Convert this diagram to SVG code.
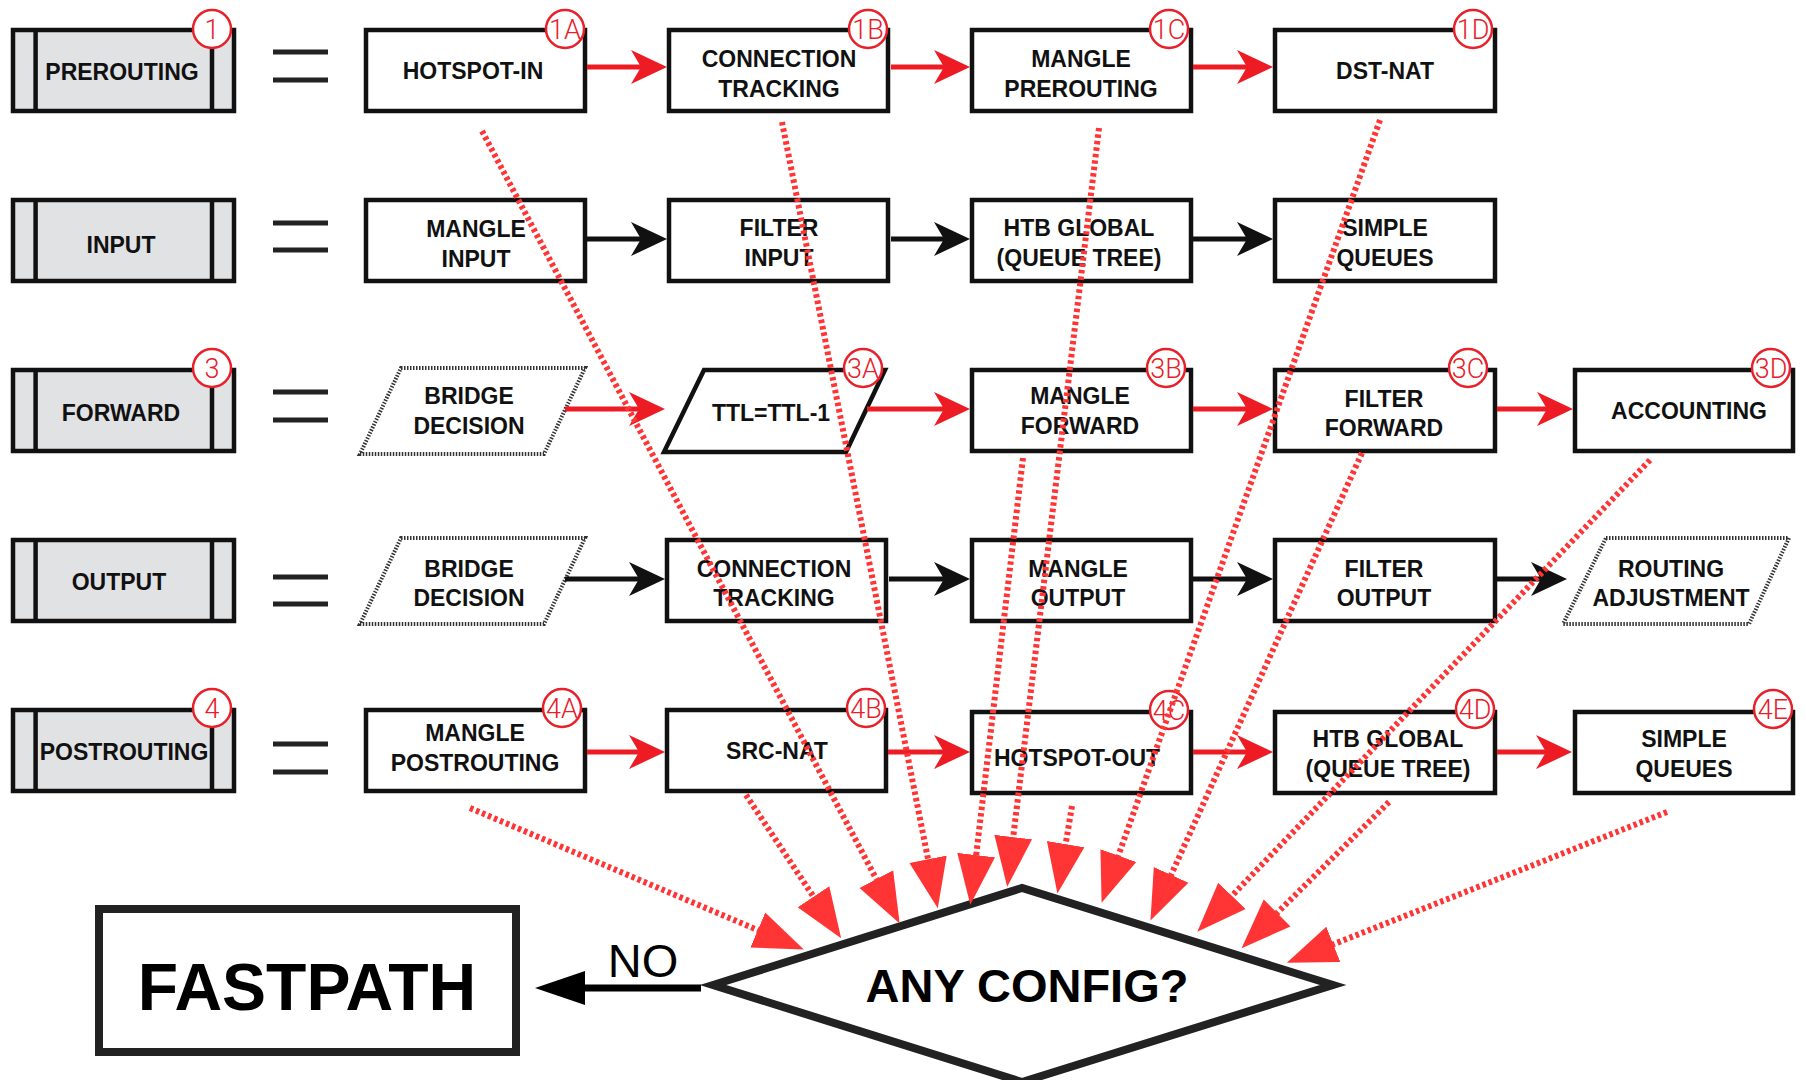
<svg xmlns="http://www.w3.org/2000/svg" width="1806" height="1080" viewBox="0 0 1806 1080">
<style>
.box{fill:#fff;stroke:#111;stroke-width:4.5}
.stage{fill:#e1e2e4;stroke:#111;stroke-width:4.5}
.sl{stroke:#111;stroke-width:4.5}
.dotted{fill:#fff;stroke:#333;stroke-width:4;stroke-dasharray:1.5 1.5}
.lbl{font-family:"Liberation Sans",Arial,sans-serif;font-weight:bold;font-size:23px;text-anchor:middle;fill:#111}
.bc{fill:#fff;stroke:#e8202a;stroke-width:2.5}
.bt{font-family:Roboto,"Liberation Sans",sans-serif;font-weight:300;font-size:27px;fill:#e8202a;text-anchor:middle}
.eq{stroke:#222;stroke-width:5}
.red{stroke:#ed1c24;stroke-width:5;fill:none;marker-end:url(#ahRed)}
.blk{stroke:#111;stroke-width:5;fill:none;marker-end:url(#ahBlk)}
.dot{stroke:#ff3434;stroke-width:6;stroke-dasharray:3.5 3;fill:none;marker-end:url(#ahDot)}
</style>
<defs>
<marker id="ahRed" markerUnits="userSpaceOnUse" viewBox="0 -20 40 40" markerWidth="40" markerHeight="40" refX="28" refY="0" orient="auto"><path d="M0,-17 L36,0 L0,17 L10,0 z" fill="#ed1c24"/></marker>
<marker id="ahBlk" markerUnits="userSpaceOnUse" viewBox="0 -20 40 40" markerWidth="40" markerHeight="40" refX="28" refY="0" orient="auto"><path d="M0,-17 L36,0 L0,17 L10,0 z" fill="#111"/></marker>
<marker id="ahDot" markerUnits="userSpaceOnUse" viewBox="0 -22 52 44" markerWidth="52" markerHeight="44" refX="10" refY="0" orient="auto"><path d="M0,-19 L50,0 L0,19 z" fill="#ff3434"/></marker>
<marker id="ahNo" markerUnits="userSpaceOnUse" viewBox="0 -18 52 36" markerWidth="52" markerHeight="36" refX="0" refY="0" orient="auto"><path d="M0,-17 L50,0 L0,17 z" fill="#000"/></marker>
</defs>
<rect width="1806" height="1080" fill="#fff"/>

<!-- Stage boxes -->
<g id="prerouting"><rect class="stage" x="13" y="30" width="221" height="81"/><line class="sl" x1="35.6" y1="30" x2="35.6" y2="111"/><line class="sl" x1="212" y1="30" x2="212" y2="111"/><text class="lbl" x="122" y="80">PREROUTING</text><circle class="bc" cx="212" cy="29" r="19"/><text class="bt" x="212" y="38.5">1</text></g>
<g id="input"><rect class="stage" x="13" y="200" width="221" height="81"/><line class="sl" x1="35.6" y1="200" x2="35.6" y2="281"/><line class="sl" x1="212" y1="200" x2="212" y2="281"/><text class="lbl" x="121" y="253">INPUT</text></g>
<g id="forward"><rect class="stage" x="13" y="370" width="221" height="81"/><line class="sl" x1="35.6" y1="370" x2="35.6" y2="451"/><line class="sl" x1="212" y1="370" x2="212" y2="451"/><text class="lbl" x="121" y="421">FORWARD</text><circle class="bc" cx="212" cy="368" r="19"/><text class="bt" x="212" y="377.5">3</text></g>
<g id="output"><rect class="stage" x="13" y="540" width="221" height="81"/><line class="sl" x1="35.6" y1="540" x2="35.6" y2="621"/><line class="sl" x1="212" y1="540" x2="212" y2="621"/><text class="lbl" x="119" y="590">OUTPUT</text></g>
<g id="postrouting"><rect class="stage" x="13" y="710" width="221" height="81"/><line class="sl" x1="35.6" y1="710" x2="35.6" y2="791"/><line class="sl" x1="212" y1="710" x2="212" y2="791"/><text class="lbl" x="124" y="760">POSTROUTING</text><circle class="bc" cx="212" cy="708" r="19"/><text class="bt" x="212" y="717.5">4</text></g>

<!-- Equals signs -->
<g id="equals">
<line class="eq" x1="273" y1="52" x2="328" y2="52"/><line class="eq" x1="273" y1="80" x2="328" y2="80"/>
<line class="eq" x1="273" y1="223" x2="328" y2="223"/><line class="eq" x1="273" y1="250" x2="328" y2="250"/>
<line class="eq" x1="273" y1="392" x2="328" y2="392"/><line class="eq" x1="273" y1="420" x2="328" y2="420"/>
<line class="eq" x1="273" y1="577" x2="328" y2="577"/><line class="eq" x1="273" y1="604" x2="328" y2="604"/>
<line class="eq" x1="273" y1="744" x2="328" y2="744"/><line class="eq" x1="273" y1="772" x2="328" y2="772"/>
</g>

<!-- Row 1 -->
<g id="hotspot-in"><rect class="box" x="366" y="30" width="219" height="81"/><text class="lbl" x="473" y="79">HOTSPOT-IN</text><circle class="bc" cx="565" cy="29" r="19"/><text class="bt" x="565" y="38.5">1A</text></g>
<g id="conntrack-pre"><rect class="box" x="669" y="30" width="219" height="81"/><text class="lbl" x="779" y="67">CONNECTION</text><text class="lbl" x="779" y="97">TRACKING</text><circle class="bc" cx="868" cy="29" r="19"/><text class="bt" x="868" y="38.5">1B</text></g>
<g id="mangle-prerouting"><rect class="box" x="972" y="30" width="219" height="81"/><text class="lbl" x="1081" y="67">MANGLE</text><text class="lbl" x="1081" y="97">PREROUTING</text><circle class="bc" cx="1169" cy="29" r="19"/><text class="bt" x="1169" y="38.5">1C</text></g>
<g id="dst-nat"><rect class="box" x="1275" y="30" width="220" height="81"/><text class="lbl" x="1385" y="79">DST-NAT</text><circle class="bc" cx="1473" cy="29" r="19"/><text class="bt" x="1473" y="38.5">1D</text></g>

<!-- Row 2 -->
<g id="mangle-input"><rect class="box" x="366" y="200" width="219" height="81"/><text class="lbl" x="476" y="237">MANGLE</text><text class="lbl" x="476" y="267">INPUT</text></g>
<g id="filter-input"><rect class="box" x="669" y="200" width="219" height="81"/><text class="lbl" x="779" y="236">FILTER</text><text class="lbl" x="779" y="266">INPUT</text></g>
<g id="htb-input"><rect class="box" x="972" y="200" width="219" height="81"/><text class="lbl" x="1079" y="236">HTB GLOBAL</text><text class="lbl" x="1079" y="266">(QUEUE TREE)</text></g>
<g id="simple-input"><rect class="box" x="1275" y="200" width="220" height="81"/><text class="lbl" x="1385" y="236">SIMPLE</text><text class="lbl" x="1385" y="266">QUEUES</text></g>

<!-- Row 3 -->
<g id="bridge-fwd"><polygon class="dotted" points="401,368 585,368 544,454 360,454"/><text class="lbl" x="469" y="404">BRIDGE</text><text class="lbl" x="469" y="434">DECISION</text></g>
<g id="ttl"><polygon class="box" points="704,370 885,370 846,452 664,452"/><text class="lbl" x="771" y="421">TTL=TTL-1</text><circle class="bc" cx="863" cy="368" r="19"/><text class="bt" x="863" y="377.5">3A</text></g>
<g id="mangle-forward"><rect class="box" x="972" y="370" width="219" height="81"/><text class="lbl" x="1080" y="404">MANGLE</text><text class="lbl" x="1080" y="434">FORWARD</text><circle class="bc" cx="1166" cy="368" r="19"/><text class="bt" x="1166" y="377.5">3B</text></g>
<g id="filter-forward"><rect class="box" x="1275" y="370" width="220" height="81"/><text class="lbl" x="1384" y="407">FILTER</text><text class="lbl" x="1384" y="436">FORWARD</text><circle class="bc" cx="1468" cy="368" r="19"/><text class="bt" x="1468" y="377.5">3C</text></g>
<g id="accounting"><rect class="box" x="1575" y="370" width="218" height="81"/><text class="lbl" x="1689" y="419">ACCOUNTING</text><circle class="bc" cx="1771" cy="368" r="19"/><text class="bt" x="1771" y="377.5">3D</text></g>

<!-- Row 4 -->
<g id="bridge-out"><polygon class="dotted" points="401,538 585,538 544,624 360,624"/><text class="lbl" x="469" y="577">BRIDGE</text><text class="lbl" x="469" y="606">DECISION</text></g>
<g id="conntrack-out"><rect class="box" x="667" y="540" width="219" height="81"/><text class="lbl" x="774" y="577">CONNECTION</text><text class="lbl" x="774" y="606">TRACKING</text></g>
<g id="mangle-output"><rect class="box" x="972" y="540" width="219" height="81"/><text class="lbl" x="1078" y="577">MANGLE</text><text class="lbl" x="1078" y="606">OUTPUT</text></g>
<g id="filter-output"><rect class="box" x="1275" y="540" width="220" height="81"/><text class="lbl" x="1384" y="577">FILTER</text><text class="lbl" x="1384" y="606">OUTPUT</text></g>
<g id="routing-adj"><polygon class="dotted" points="1606,538 1789,538 1749,624 1563,624"/><text class="lbl" x="1671" y="577">ROUTING</text><text class="lbl" x="1671" y="606">ADJUSTMENT</text></g>

<!-- Row 5 -->
<g id="mangle-postrouting"><rect class="box" x="366" y="710" width="219" height="81"/><text class="lbl" x="475" y="741">MANGLE</text><text class="lbl" x="475" y="771">POSTROUTING</text><circle class="bc" cx="562" cy="708" r="19"/><text class="bt" x="562" y="717.5">4A</text></g>
<g id="src-nat"><rect class="box" x="667" y="710" width="219" height="81"/><text class="lbl" x="777" y="759">SRC-NAT</text><circle class="bc" cx="866" cy="708" r="19"/><text class="bt" x="866" y="717.5">4B</text></g>
<g id="hotspot-out"><rect class="box" x="972" y="712" width="219" height="81"/><text class="lbl" x="1077" y="766">HOTSPOT-OUT</text><circle class="bc" cx="1169" cy="710" r="19"/><text class="bt" x="1169" y="719.5">4C</text></g>
<g id="htb-post"><rect class="box" x="1275" y="712" width="220" height="81"/><text class="lbl" x="1388" y="747">HTB GLOBAL</text><text class="lbl" x="1388" y="777">(QUEUE TREE)</text><circle class="bc" cx="1475" cy="709" r="19"/><text class="bt" x="1475" y="718.5">4D</text></g>
<g id="simple-post"><rect class="box" x="1575" y="712" width="218" height="81"/><text class="lbl" x="1684" y="747">SIMPLE</text><text class="lbl" x="1684" y="777">QUEUES</text><circle class="bc" cx="1773" cy="709" r="19"/><text class="bt" x="1773" y="718.5">4E</text></g>

<!-- Decision and fastpath -->
<g id="any-config"><polygon points="713,985 1022,888 1333,985 1022,1082" fill="#fff" stroke="#222" stroke-width="8"/><text x="1027" y="1002" font-family="Liberation Sans, Arial, sans-serif" font-weight="bold" font-size="47" text-anchor="middle" fill="#000">ANY CONFIG?</text></g>
<g id="fastpath"><rect x="99" y="909" width="417" height="143" fill="#fff" stroke="#222" stroke-width="8"/><text x="307" y="1010" font-family="Liberation Sans, Arial, sans-serif" font-weight="bold" font-size="66" text-anchor="middle" fill="#000">FASTPATH</text></g>

<!-- Connectors -->
<g id="connectors">
<line class="red" x1="587" y1="67" x2="659" y2="67"/>
<line class="red" x1="891" y1="67" x2="962" y2="67"/>
<line class="red" x1="1193" y1="67" x2="1265" y2="67"/>
<line class="blk" x1="587" y1="239" x2="659" y2="239"/>
<line class="blk" x1="891" y1="239" x2="962" y2="239"/>
<line class="blk" x1="1193" y1="239" x2="1265" y2="239"/>
<line class="red" x1="565" y1="409" x2="657" y2="409"/>
<line class="red" x1="867" y1="409" x2="962" y2="409"/>
<line class="red" x1="1193" y1="409" x2="1265" y2="409"/>
<line class="red" x1="1497" y1="409" x2="1565" y2="409"/>
<line class="blk" x1="565" y1="579" x2="657" y2="579"/>
<line class="blk" x1="889" y1="579" x2="962" y2="579"/>
<line class="blk" x1="1193" y1="579" x2="1265" y2="579"/>
<line class="blk" x1="1497" y1="579" x2="1559" y2="579"/>
<line class="red" x1="587" y1="752" x2="657" y2="752"/>
<line class="red" x1="888" y1="752" x2="962" y2="752"/>
<line class="red" x1="1193" y1="752" x2="1265" y2="752"/>
<line class="red" x1="1497" y1="752" x2="1564" y2="752"/>

<line class="dot" x1="470" y1="808" x2="767" y2="934"/>
<line class="dot" x1="746" y1="795" x2="819" y2="905"/>
<line class="dot" x1="482" y1="131" x2="881" y2="888"/>
<line class="dot" x1="782" y1="122" x2="930" y2="869"/>
<line class="dot" x1="1023" y1="458" x2="975" y2="865"/>
<line class="dot" x1="1099" y1="128" x2="1012" y2="847"/>
<line class="dot" x1="1072" y1="806" x2="1064" y2="854"/>
<line class="dot" x1="1380" y1="120" x2="1115" y2="865"/>
<line class="dot" x1="1362" y1="453" x2="1167" y2="884"/>
<line class="dot" x1="1650" y1="460" x2="1225" y2="903"/>
<line class="dot" x1="1389" y1="802" x2="1270" y2="920"/>
<line class="dot" x1="1667" y1="812" x2="1324" y2="948"/>

<line x1="701" y1="988" x2="585" y2="988" stroke="#000" stroke-width="7" marker-end="url(#ahNo)"/>
<text x="643" y="977" font-family="Liberation Sans, Arial, sans-serif" font-size="47" text-anchor="middle" fill="#000">NO</text>
</g>
</svg>
